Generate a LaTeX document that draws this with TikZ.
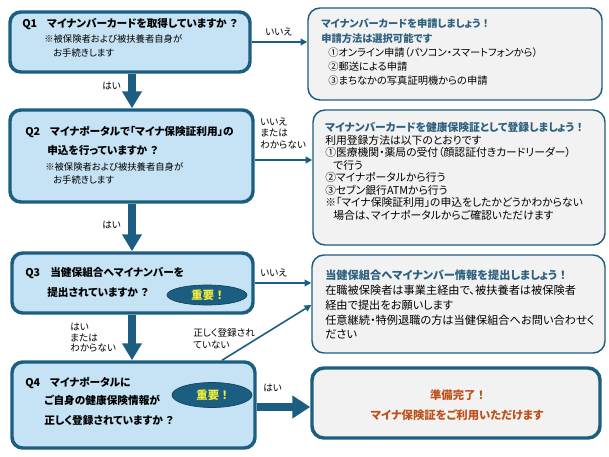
\documentclass[tikz,border=0pt]{standalone}
\usepackage{fontspec}
\setmainfont{Noto Sans CJK JP}[RawFeature=+palt]
\usetikzlibrary{arrows.meta,shapes.geometric}
\definecolor{dteal}{HTML}{1B5E82}
\definecolor{qfill}{HTML}{C5E3F4}
\definecolor{bfill}{HTML}{F2F2F2}
\definecolor{ttl}{HTML}{2E6080}
\definecolor{org}{HTML}{C0501A}
\definecolor{impy}{HTML}{F0EC3C}
\newcommand\myq{\hspace{0.3em}？}
\newcommand\mye{\hspace{0.25em}！}
\begin{document}
\begin{tikzpicture}[x=0.75pt,y=-0.75pt,
  qbox/.style={draw=dteal, line width=2.6pt, fill=qfill, rounded corners=8pt, inner sep=0pt},
  rbox/.style={draw=dteal, line width=1.1pt, fill=bfill, rounded corners=9pt, inner sep=0pt},
  fbox/.style={rbox, line width=2.6pt},
  impo/.style={ellipse, fill=dteal, draw=dteal!70!black, line width=0.5pt, inner sep=0pt, text=impy, font=\fontsize{8.5}{9}\selectfont\bfseries},
  txt/.style={anchor=base west, inner sep=0pt},
  qt/.style={txt, font=\fontsize{8}{9}\selectfont\bfseries},
  qn/.style={txt, font=\fontsize{7}{8}\selectfont},
  b1t/.style={txt, font=\fontsize{7.7}{8}\selectfont\bfseries, text=ttl},
  b1n/.style={txt, font=\fontsize{7.7}{8}\selectfont},
  b2t/.style={txt, font=\fontsize{8.1}{9}\selectfont\bfseries, text=ttl},
  b2n/.style={txt, font=\fontsize{8.1}{9}\selectfont},
  b3t/.style={txt, font=\fontsize{8.4}{9}\selectfont\bfseries, text=ttl},
  b3n/.style={txt, font=\fontsize{8.4}{9}\selectfont},
  b4t/.style={anchor=base, inner sep=0pt, font=\fontsize{8.5}{9}\selectfont\bfseries, text=org},
  lab/.style={txt, font=\fontsize{7.2}{8}\selectfont},
  thinarrow/.style={draw=dteal, line width=1.2pt, -{Triangle[width=5pt,length=5pt]}},
  bigarrow/.style={draw=dteal, line width=6pt, -{Triangle[width=14.25pt,length=12.75pt]}},
  bigarrowb/.style={draw=dteal, line width=6pt, -{Triangle[width=16.5pt,length=13.5pt]}}
]
\useasboundingbox (0,0) rectangle (609,456);

% question boxes
\node[qbox, minimum width=180pt, minimum height=45pt] (q1) at (130,42) {};
\node[qbox, minimum width=182.25pt, minimum height=69pt] (q2) at (131.5,156) {};
\node[qbox, minimum width=180.75pt, minimum height=45pt] (q3) at (132.5,283) {};
\node[qbox, minimum width=182.25pt, minimum height=64.5pt] (q4) at (133.5,405) {};

% right boxes
\node[rbox, minimum width=220.5pt, minimum height=69pt] (b1) at (455,54) {};
\node[rbox, minimum width=219pt, minimum height=101.25pt] (b2) at (459,177.5) {};
\node[rbox, minimum width=219.75pt, minimum height=73.5pt] (b3) at (458.5,304) {};
\node[fbox, minimum width=216pt, minimum height=52.5pt] (b4) at (456,403) {};

% important ellipses
\node[impo, minimum width=60pt, minimum height=15pt] (e3) at (207,295) {重要\mye};
\node[impo, minimum width=60pt, minimum height=18.75pt] (e4) at (212,395) {重要\mye};

% Q1 text
\node[qt] (q1a) at (22,28) {Q1};
\node[qt] (q1b) at (47,28) {マイナンバーカードを取得していますか\myq};
\node[qn] (q1c) at (44,43) {※被保険者および被扶養者自身が};
\node[qn] (q1d) at (53,57) {お手続きします};

% Q2 text
\node[qt] (q2a) at (25,136) {Q2};
\node[qt] (q2b) at (50,136) {マイナポータルで「マイナ保険証利用」の};
\node[qt] (q2c) at (47,154) {申込を行っていますか\myq};
\node[qn] (q2d) at (45,170) {※被保険者および被扶養者自身が};
\node[qn] (q2e) at (53,183) {お手続きします};

% Q3 text
\node[qt] (q3a) at (25,276) {Q3};
\node[qt] (q3b) at (50,276) {当健保組合へマイナンバーを};
\node[qt] (q3c) at (47,296) {提出されていますか\myq};

% Q4 text
\node[qt] (q4a) at (25,386) {Q4};
\node[qt] (q4b) at (50,386) {マイナポータルに};
\node[qt] (q4c) at (44,404) {ご自身の健康保険情報が};
\node[qt] (q4d) at (44,424) {正しく登録されていますか\myq};

% B1 text
\node[b1t] (b1a) at (321,28) {マイナンバーカードを申請しましょう\mye};
\node[b1t] (b1b) at (321,43) {申請方法は選択可能です};
\node[b1n] (b1c) at (328,57) {①オンライン申請（パソコン・スマートフォンから）};
\node[b1n] (b1d) at (328,71) {②郵送による申請};
\node[b1n] (b1e) at (328,85) {③まちなかの写真証明機からの申請};

% B2 text
\node[b2t] (b2a) at (325,132) {マイナンバーカードを健康保険証として登録しましょう\mye};
\node[b2n] (b2b) at (325,144) {利用登録方法は以下のとおりです};
\node[b2n] (b2c) at (325,156.5) {①医療機関・薬局の受付（顔認証付きカードリーダー）};
\node[b2n] (b2d) at (333,169) {で行う};
\node[b2n] (b2e) at (325,181.5) {②マイナポータルから行う};
\node[b2n] (b2f) at (325,194) {③セブン銀行ATMから行う};
\node[b2n] (b2g) at (325,206.5) {※「マイナ保険証利用」の申込をしたかどうかわからない};
\node[b2n] (b2h) at (333,219) {場合は、マイナポータルからご確認いただけます};

% B3 text
\node[b3t] (b3a) at (325,279) {当健保組合へマイナンバー情報を提出しましょう\mye};
\node[b3n] (b3b) at (325,294) {在職被保険者は事業主経由で、被扶養者は被保険者};
\node[b3n] (b3c) at (325,309) {経由で提出をお願いします};
\node[b3n] (b3d) at (325,324) {任意継続・特例退職の方は当健保組合へお問い合わせく};
\node[b3n] (b3e) at (325,338) {ださい};

% B4 text
\node[b4t] (b4a) at (457,399) {準備完了\mye};
\node[b4t] (b4b) at (457,419) {マイナ保険証をご利用いただけます};

% connectors
\coordinate (xa) at (132,0);
\draw[bigarrow] (q1.south -| xa) -- (q2.north -| xa);
\draw[bigarrow] (q2.south -| xa) -- (q3.north -| xa);
\draw[bigarrow] (q3.south -| xa) -- (q4.north -| xa);

\draw[thinarrow] (q1.east) -- (b1.west |- q1.east);
\coordinate (y2) at (0,160);
\draw[thinarrow] (q2.east |- y2) -- (b2.west |- y2);
\draw[thinarrow] (q3.east) -- (b3.west |- q3.east);
\coordinate (d0) at (222,0);
\coordinate (d1) at (0,305);
\draw[thinarrow] (q4.north -| d0) -- (b3.west |- d1);
\coordinate (y4) at (0,407);
\draw[bigarrowb] (q4.east |- y4) -- (b4.west |- y4);

% connector labels
\node[lab] (l1) at (265,36) {いいえ};
\node[lab] (l2) at (102,90) {はい};
\node[lab] (l3a) at (260,126) {いいえ};
\node[lab] (l3b) at (260,137) {または};
\node[lab] (l3c) at (260,148) {わからない};
\node[lab] (l4) at (102,228) {はい};
\node[lab] (l5) at (260,276) {いいえ};
\node[lab] (l6a) at (70,330) {はい};
\node[lab] (l6b) at (70,341) {または};
\node[lab] (l6c) at (70,351) {わからない};
\node[lab] (l7a) at (193,336) {正しく登録され};
\node[lab] (l7b) at (193,348) {ていない};
\node[lab] (l8) at (263,391) {はい};
\end{tikzpicture}
\end{document}
